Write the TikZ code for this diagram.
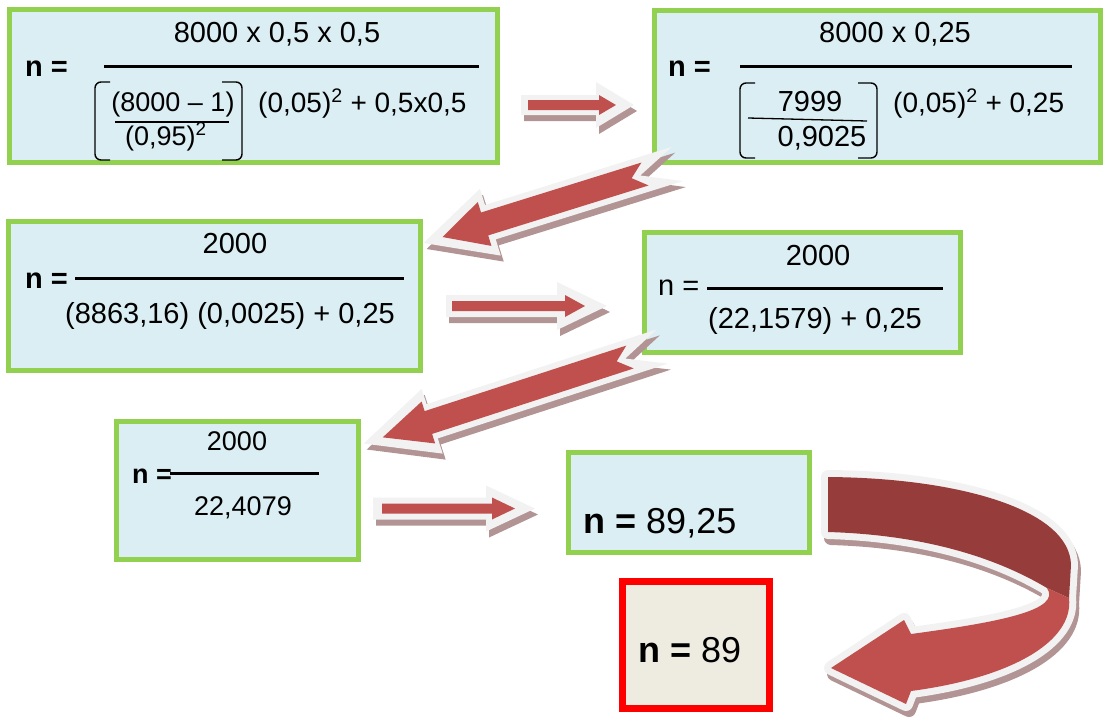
\documentclass[tikz,border=0pt]{standalone}
\usepackage{fontspec}
\setmainfont{Liberation Sans}
\definecolor{boxfill}{HTML}{DAEEF3}
\definecolor{boxgreen}{HTML}{92D050}
\definecolor{arrred}{HTML}{C0504D}
\definecolor{arrdark}{HTML}{963C3A}
\definecolor{arrwhite}{HTML}{F2F2F2}
\definecolor{arrshadow}{HTML}{B39494}
\definecolor{finalfill}{HTML}{EEECE1}
\definecolor{finalred}{HTML}{FF0000}
% #1 tail x, #2 tip x, #3 half shaft, #4 half head, #5 head length, #6 notch depth
\newcommand{\arrowshape}[6]{(#1,#3) -- ({#2-#5},#3) -- ({#2-#5},#4) -- (#2,0) -- ({#2-#5},{-#4}) -- ({#2-#5},{-#3}) -- (#1,{-#3}) -- ({#1+#6},0) -- cycle}
% #1,#2 origin, #3 angle, #4 red params, #5 white params
\newcommand{\fancyarrow}[5]{%
  \fill[arrshadow, shift={({#1+3},{#2+6})}, rotate=#3] \arrowshape#5;
  \fill[arrwhite, shift={(#1,#2)}, rotate=#3] \arrowshape#5;
  \fill[arrred, shift={(#1,#2)}, rotate=#3] \arrowshape#4;}
\begin{document}
\begin{tikzpicture}[x=1pt,y=-1pt,
  gbox/.style={draw=boxgreen, fill=boxfill, line width=5pt, inner sep=0pt},
  rbox/.style={draw=finalred, fill=finalfill, line width=7pt, inner sep=0pt},
  txt/.style={inner sep=0pt, anchor=base},
  t28/.style={txt, font=\fontsize{29}{31}\selectfont},
  t28s/.style={txt, font=\fontsize{28}{30}\selectfont},
  t28b/.style={txt, font=\fontsize{29}{31}\selectfont\bfseries},
  t27/.style={txt, font=\fontsize{27}{29}\selectfont},
  t26/.style={txt, font=\fontsize{27}{29}\selectfont},
  t26b/.style={txt, font=\fontsize{27}{29}\selectfont\bfseries},
  t36/.style={txt, font=\fontsize{36}{38}\selectfont},
  frac/.style={line width=3pt, black},
  thinfrac/.style={line width=1.3pt, black},
  brk/.style={line width=1.4pt, black, rounded corners=6pt}]
\useasboundingbox (0,0) rectangle (1103,721);

% ---------- boxes ----------
\node[gbox, minimum width=488pt, minimum height=153pt] (b1) at (253.5,86) {};
\node[gbox, minimum width=446pt, minimum height=152pt] (b2) at (877.5,86.5) {};
\node[gbox, minimum width=412pt, minimum height=149pt] (b3) at (214.5,296) {};
\node[gbox, minimum width=316pt, minimum height=120pt] (b4) at (802.5,292.5) {};
\node[gbox, minimum width=242pt, minimum height=138pt] (b5) at (237.5,490.5) {};
\node[gbox, minimum width=241pt, minimum height=100pt] (b6) at (689,502.5) {};
\node[rbox, minimum width=147pt, minimum height=127pt] (b7) at (696,645) {};

% ---------- box 1 ----------
\node[t28b, anchor=base west] (n1) at (25,76) {n =};
\node[t28] (num1) at (277,42) {8000 x 0,5 x 0,5};
\draw[frac] (104,66) -- (479,66);
\node[t27] (d1a) at (173,111) {(8000 – 1)};
\draw[thinfrac] (115,122) -- (229,122);
\node[t27, anchor=base west] (d1b) at (125,145) {(0,95)\textsuperscript{2}};
\node[t28s, anchor=base west] (d1c) at (258,112) {(0,05)\textsuperscript{2} + 0,5x0,5};
\draw[brk] (110,82) -- (95,82) -- (95,160) -- (110,160);
\draw[brk] (222,82) -- (242,82) -- (242,160) -- (222,160);

% ---------- box 2 ----------
\node[t28b, anchor=base west] (n2) at (668,76) {n =};
\node[t28] (num2) at (895,42) {8000 x 0,25};
\draw[frac] (740,66) -- (1072,66);
\node[t28] (d2a) at (810,111) {7999};
\draw[thinfrac] (748,118) -- (867,121);
\node[t28] (d2b) at (822,146) {0,9025};
\node[t28s, anchor=base west] (d2c) at (893,112) {(0,05)\textsuperscript{2} + 0,25};
\draw[brk] (755,83) -- (740,83) -- (740,158) -- (755,158);
\draw[brk] (858,83) -- (877,83) -- (877,158) -- (858,158);

% ---------- box 3 ----------
\node[t28b, anchor=base west] (n3) at (25,288) {n =};
\draw[frac] (75,278) -- (404,278);
\node[t28] (num3) at (235,253) {2000};
\node[t28] (d3) at (230,323) {(8863,16) (0,0025) + 0,25};

% ---------- box 4 ----------
\node[t28, anchor=base west] (n4) at (658,295) {n =};
\draw[frac] (707,288) -- (943,288);
\node[t28] (num4) at (818,265) {2000};
\node[t28] (d4) at (815,328) {(22,1579) + 0,25};

% ---------- box 5 ----------
\node[t26b, anchor=base west] (n5) at (132,483) {n =};
\draw[frac] (170,473) -- (319,473);
\node[t26] (num5) at (237,450) {2000};
\node[t26] (d5) at (243,515) {22,4079};

% ---------- box 6, 7 ----------
\node[t36, anchor=base west] (n6) at (583,533) {\textbf{n =} 89,25};
\node[t36, anchor=base west] (n7) at (638,662) {\textbf{n =} 89};

% ---------- straight arrows ----------
\fancyarrow{528}{105}{0}{{0}{88}{5}{10}{17}{0}}{{-7}{106}{10}{23}{38}{0}}
\fancyarrow{452}{306}{0}{{0}{133}{5}{11}{20}{0}}{{-6}{155}{11}{24}{50}{0}}
\fancyarrow{382}{508.5}{0}{{0}{133}{5}{11}{23}{0}}{{-9}{153}{11}{23}{49}{0}}

% ---------- diagonal arrows ----------
\fancyarrow{645}{174}{197.3}{{0}{212}{12}{23}{44}{14}}{{-34}{232}{18}{35}{70}{39}}
\fancyarrow{630}{357}{198}{{0}{260}{12}{22}{48}{14}}{{-34}{280}{18}{34}{72}{39}}

% ---------- U-turn arrow ----------
\def\darkband{(828,477) .. controls (960,478) and (1070,510) .. (1071,565) -- (1069,598) -- (1047,588) .. controls (1000,560) and (930,535) .. (828,532) -- cycle}
\def\lightband{(1047,588) -- (1069,598) .. controls (1074,642) and (1010,678) .. (911,691) -- (906,704) -- (831,668) -- (904,620) -- (911,634) .. controls (1000,622) and (1062,610) .. (1047,588) -- cycle}
\begin{scope}[shift={(3,6)}]
  \filldraw[arrshadow, line width=14pt, line join=round] \darkband;
  \filldraw[arrshadow, line width=14pt, line join=round] \lightband;
\end{scope}
\draw[arrwhite, line width=14pt, line join=round] \darkband;
\draw[arrwhite, line width=14pt, line join=round] \lightband;
\fill[arrdark] \darkband;
\fill[arrred] \lightband;
\end{tikzpicture}
\end{document}
